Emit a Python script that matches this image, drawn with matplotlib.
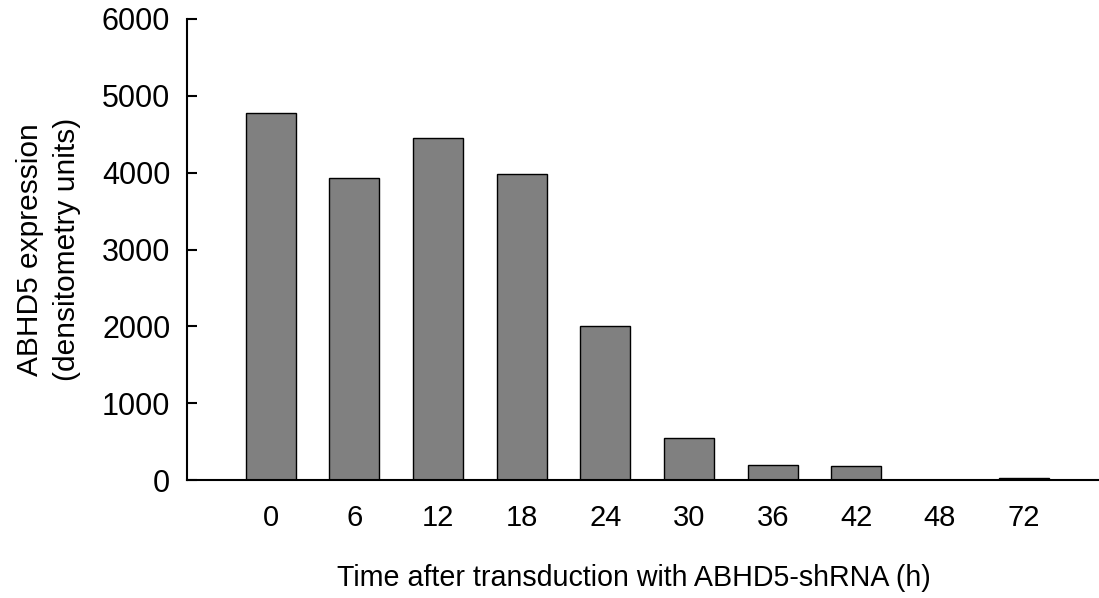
import matplotlib
matplotlib.use("Agg")
import matplotlib.pyplot as plt

categories = ["0", "6", "12", "18", "24", "30", "36", "42", "48", "72"]
values = [4780, 3935, 4455, 3985, 2000, 550, 189, 182, 0, 30]
yticks = [0, 1000, 2000, 3000, 4000, 5000, 6000]

plt.rcParams['font.family'] = ['Liberation Sans', 'DejaVu Sans']

fig = plt.figure(figsize=(10.99, 5.98), dpi=100)
ax = fig.add_axes([187/1099, 1-480/598, 1-187/1099, (480-19)/598])

x = list(range(len(categories)))
ax.bar(x, values, width=0.6, color="#808080", edgecolor="black", linewidth=1.0, zorder=2)

ax.set_xlim(-1, 9.9)
ax.set_ylim(0, 6000)
ax.set_yticks(yticks)
ax.set_yticklabels([str(v) for v in yticks], fontsize=22)
ax.set_xticks(x)
ax.set_xticklabels(categories, fontsize=21)
ax.tick_params(axis='y', direction='in', length=7, width=1.5, pad=12)
ax.tick_params(axis='x', length=0, pad=17)

for s in ["top", "right"]:
    ax.spines[s].set_visible(False)
ax.spines["left"].set_linewidth(1.5)
ax.spines["bottom"].set_linewidth(1.5)
ax.spines["bottom"].set_zorder(3)

ax.set_xlabel("Time after transduction with ABHD5-shRNA (h)", fontsize=20.6)
ax.xaxis.set_label_coords((634 - 187) / 912, (480 - 564) / 461)
ax.set_ylabel("ABHD5 expression\n(densitometry units)", fontsize=21.5, linespacing=1.4)
ax.yaxis.set_label_coords((81 - 187) / 912, 0.5)

fig.savefig("out.png", dpi=100)
